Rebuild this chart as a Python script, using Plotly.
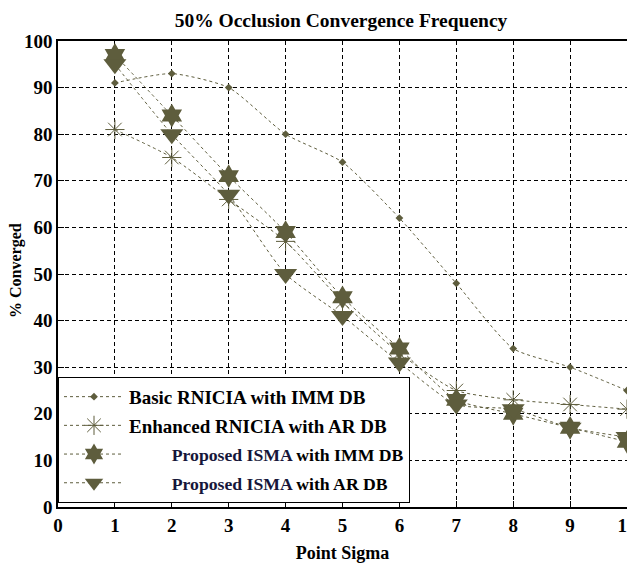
import plotly.graph_objects as go

x_sigma = [1, 2, 3, 4, 5, 6, 7, 8, 9, 10]
basic_imm = [91, 93, 90, 80, 74, 62, 48, 34, 30, 25]
enhanced_ar = [81, 75, 66, 57, 44, 33, 25, 23, 22, 21]
isma_imm = [97, 84, 71, 59, 45, 34, 23, 20, 17, 14]
isma_ar = [95, 80, 67, 50, 41, 31, 22, 21, 17, 15]

prop_style = "font-size:17.7px"
names = [
    "Basic RNICIA with IMM DB",
    "Enhanced RNICIA with AR DB",
    "         <span style='%s'><span style='color:#16163a'>Proposed ISMA</span> with IMM DB</span>" % prop_style,
    "         <span style='%s'><span style='color:#16163a'>Proposed ISMA</span> with AR DB</span>" % prop_style,
]

olive = "#5e5d3d"
FONT = "Liberation Serif"
line_style = dict(color=olive, width=1, dash="3px,3px", shape="spline", smoothing=0.6)

# figure is drawn inside a page with an 8px body margin; the right edge
# extends past the window so the "10" label is cut like in the reference
W, H = 635, 560
L, R, T, B = 50, 16, 33, 61
PW, PH = W - L - R, H - T - B

fig = go.Figure()
fig.add_trace(go.Scatter(
    x=x_sigma, y=basic_imm, name=names[0], mode="lines+markers", legendgroup="a",
    line=line_style, marker=dict(symbol="diamond", size=6, color=olive)))
fig.add_trace(go.Scatter(
    x=x_sigma, y=enhanced_ar, name=names[1], mode="lines+markers", legendgroup="b",
    line=line_style,
    marker=dict(symbol="asterisk-open", size=16, color=olive, line=dict(width=1, color=olive))))
fig.add_trace(go.Scatter(
    x=x_sigma, y=isma_imm, name=names[2], mode="lines+markers", legendgroup="c",
    line=line_style, marker=dict(symbol="hexagram", size=18, color=olive)))
fig.add_trace(go.Scatter(
    x=x_sigma, y=isma_ar, name=names[3], mode="lines+markers", legendgroup="d",
    line=line_style, marker=dict(symbol="triangle-down", size=20, color=olive)))

axis_common = dict(
    showline=True, linecolor="black", linewidth=1.5, mirror=True,
    ticks="inside", ticklen=6, tickcolor="black",
    showgrid=True, gridcolor="black", griddash="4px,3px", gridwidth=1,
    zeroline=False, automargin=False,
    tickfont=dict(family=FONT, size=19, color="black", weight="bold"),
)

fig.update_xaxes(range=[0, 10], dtick=1, tick0=0,
                 title=dict(text="Point Sigma", standoff=12,
                            font=dict(family=FONT, size=18, color="black", weight="bold")),
                 **axis_common)
fig.update_yaxes(range=[0, 100], dtick=10, tick0=0, **axis_common)

fig.add_annotation(
    text="% Converged", xref="paper", yref="paper",
    x=(8 - L) / PW, y=(H - B - 263) / PH, xanchor="center", yanchor="middle",
    showarrow=False, textangle=-90,
    font=dict(family=FONT, size=16, color="black", weight="bold"))

fig.update_layout(
    width=W, height=H,
    margin=dict(l=L, r=R, t=T, b=B),
    paper_bgcolor="white", plot_bgcolor="white",
    title=dict(text="50% Occlusion Convergence Frequency", x=333 / W, xanchor="center",
               y=1 - 12 / H, yanchor="middle",
               font=dict(family=FONT, size=19.5, color="black", weight="bold")),
    legend=dict(x=0.0, y=0.009, xanchor="left", yanchor="bottom",
                bgcolor="white", bordercolor="black", borderwidth=1,
                font=dict(family=FONT, size=19, color="black", weight="bold"),
                itemwidth=60, tracegroupgap=1),
    showlegend=True,
)

fig.write_html("out.html")
